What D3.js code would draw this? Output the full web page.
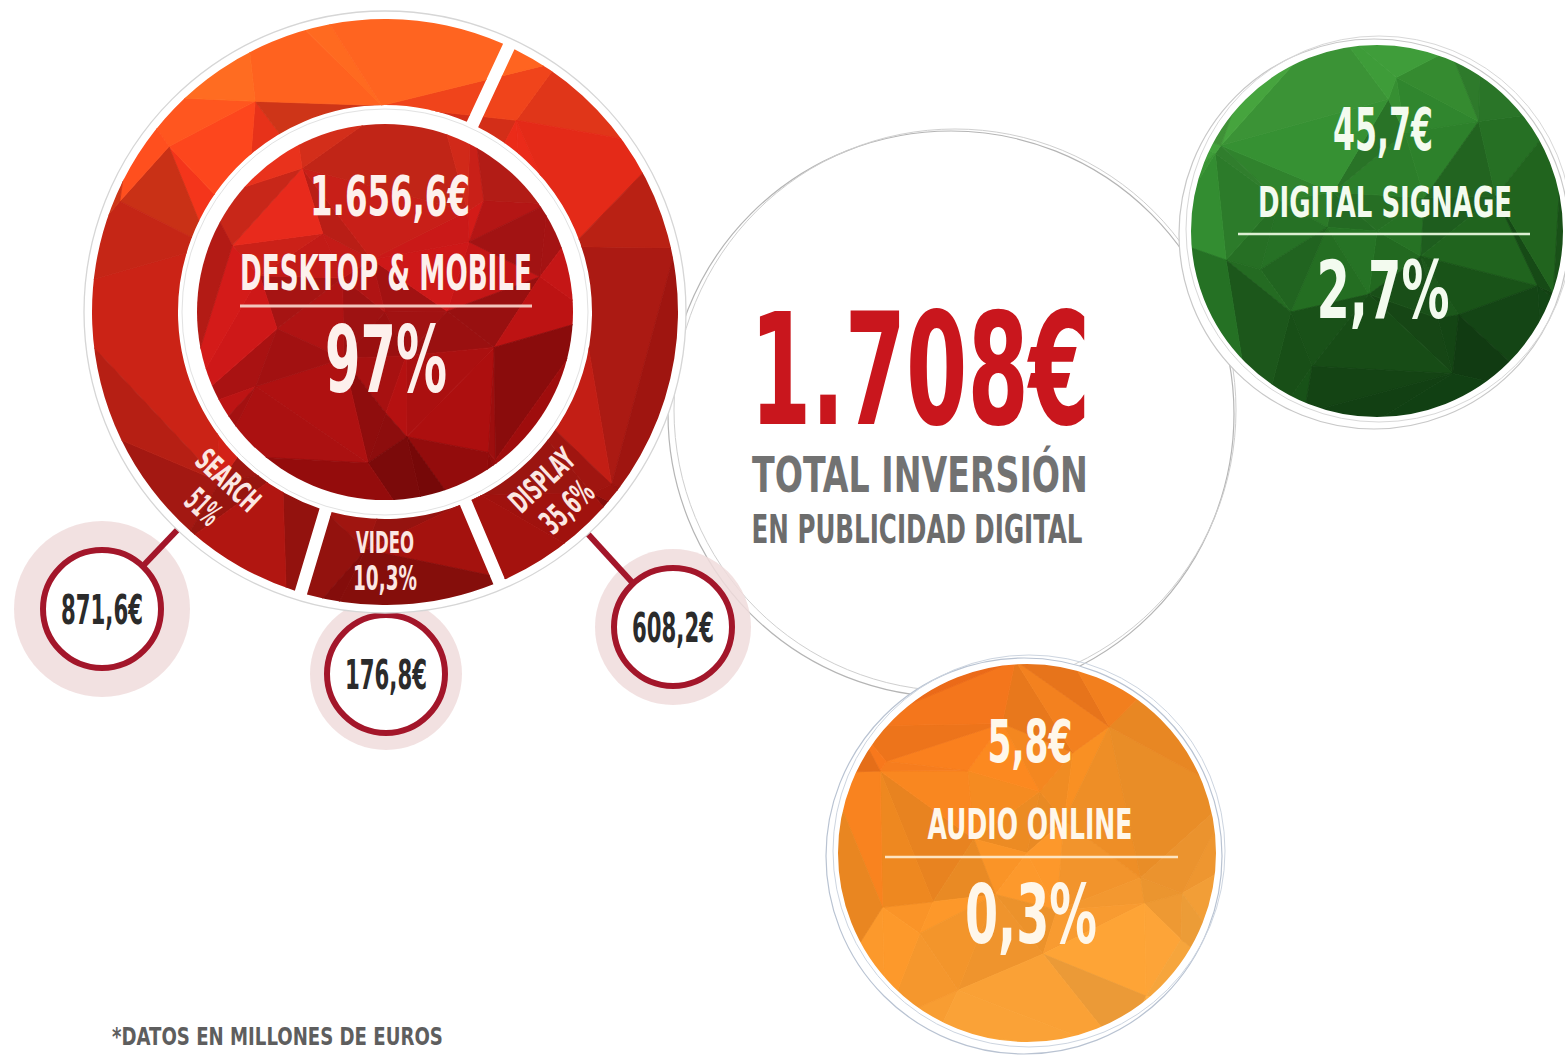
<!DOCTYPE html>
<html>
<head>
<meta charset="utf-8">
<script src="https://cdn.jsdelivr.net/npm/d3@7"></script>
<style>
  html, body { margin: 0; padding: 0; background: #fff; }
  svg { display: block; }
  text { font-family: 'Liberation Sans Narrow', 'DejaVu Sans Condensed', 'Roboto', sans-serif; font-weight: bold; }
</style>
</head>
<body>
<div id="chart"></div>
<script>
// --- data (millones de euros) ---
const total = 1708;
const groups = ['DESKTOP & MOBILE', 'DIGITAL SIGNAGE', 'AUDIO ONLINE'];
const groupValues = [1656.6, 45.7, 5.8];
const groupPercents = [97, 2.7, 0.3];

const formats = ['SEARCH', 'VIDEO', 'DISPLAY'];
const formatValues = [871.6, 176.8, 608.2];
const formatPercents = [51, 10.3, 35.6];

const ringOrder = ['DISPLAY', 'VIDEO', 'SEARCH'];   // clockwise from the top gap
const footnote = '*DATOS EN MILLONES DE EUROS';

// --- layout ---
const width = 1565, height = 1059;
const main = { cx: 385, cy: 312, rOut: 293, rIn: 207, rCore: 188 };
const labelAngle = { SEARCH: 223, VIDEO: 180, DISPLAY: 137 };
const labelWidth = { SEARCH: [75, 36], VIDEO: [58, 64], DISPLAY: [77, 60] };
const callout = {
  SEARCH:  { x: 102, y: 609, halo: 88 },
  VIDEO:   { x: 386, y: 674, halo: 76 },
  DISPLAY: { x: 673, y: 627, halo: 78 }
};
const bubbles = [
  { cx: 385, cy: 312 },
  { cx: 1377, cy: 231, r: 187 },
  { cx: 1027, cy: 853, r: 190 }
];

const loc = d3.formatLocale({ decimal: ',', thousands: '.', grouping: [3], currency: ['', '€'] });
const money = v => loc.format(',.1f')(v) + '€';
const pct = v => loc.format('.1~f')(v) + '%';

const svg = d3.select('#chart').append('svg')
  .attr('width', width)
  .attr('height', height);
svg.append('rect').attr('width', width).attr('height', height).attr('fill', '#fff');
const defs = svg.append('defs');

// condensed text: measure, then squeeze horizontally to the width in the picture
function label(g, str, x, y, size, w, fill, anchor) {
  const t = g.append('text')
    .attr('text-anchor', anchor || 'middle')
    .attr('font-size', size)
    .attr('fill', fill)
    .text(str);
  const w0 = t.node().getComputedTextLength() || w;
  t.attr('transform', `translate(${x},${y}) scale(${(w / w0).toFixed(4)},1)`);
  return t;
}

// low-poly look: delaunay triangles coloured along a direction
function facets(g, cx, cy, r, scale, seed, dir, amp) {
  const pts = [[cx, cy]];
  [0.3, 0.62, 0.92, 1.3].forEach((k, j) => {
    const n = 5 + j * 3;
    for (let i = 0; i < n; i++) {
      const a = (i + 0.5 * (j % 2)) / n * 2 * Math.PI + seed + 0.35 * Math.sin(i * 2.3 + j);
      const rr = r * k * (1 + 0.14 * Math.sin(i * 3.7 + j * 1.3 + seed));
      pts.push([cx + rr * Math.cos(a), cy + rr * Math.sin(a)]);
    }
  });
  const del = d3.Delaunay.from(pts);
  const tris = [];
  for (let t = 0; t < del.triangles.length / 3; t++) {
    tris.push([0, 1, 2].map(k => pts[del.triangles[t * 3 + k]]));
  }
  g.selectAll('path.facet')
    .data(tris)
    .join('path')
    .attr('class', 'facet')
    .attr('d', d => 'M' + d.join('L') + 'Z')
    .attr('fill', (d, i) => {
      const mx = d3.mean(d, p => p[0]), my = d3.mean(d, p => p[1]);
      const t = (dir[0] * (mx - cx) + dir[1] * (my - cy)) / r;
      const base = d3.color(scale(Math.max(-1, Math.min(1, t))));
      const f = Math.sin(i * 12.9898 + seed * 7.1);
      return (f > 0 ? base.brighter(f * amp) : base.darker(-f * amp)).formatHex();
    })
    .attr('stroke', function () { return d3.select(this).attr('fill'); })
    .attr('stroke-width', 0.8);
}

// --- central total circle (outline only) ---
const center = svg.append('g');
center.append('circle').attr('cx', 951).attr('cy', 414).attr('r', 283)
  .attr('fill', '#fff').attr('stroke', '#b5b5b5').attr('stroke-width', 1.2);
center.append('circle').attr('cx', 955).attr('cy', 410).attr('r', 281)
  .attr('fill', 'none').attr('stroke', '#cfcfcf').attr('stroke-width', 1);

// --- green and orange bubbles ---
const bubbleScales = [
  null,
  d3.scaleLinear().domain([-1, -0.3, 0.4, 1]).range(['#46a03e', '#2b7b29', '#195218', '#0d3310']),
  d3.scaleLinear().domain([-1, -0.2, 1]).range(['#ec6416', '#f28c22', '#f6a840'])
];
const bubbleAmp = [0, 0.3, 0.12];
const bubbleText = [null, ['#f3fbef', '#dcefd2'], ['#fff7ea', '#fde5c2']];
const bubbleLines = [null, [1238, 1530, 234], [885, 1178, 857]];
const bubbleType = [null,
  { v: [150, 58, 100, 1383], n: [217, 42, 254, 1385], p: [318, 80, 133, 1383] },
  { v: [762, 58, 85, 1030], n: [839, 42, 205, 1030], p: [943, 82, 132, 1031] }
];

[1, 2].forEach(i => {
  const b = bubbles[i];
  const g = svg.append('g');
  g.append('circle').attr('cx', b.cx - 3).attr('cy', b.cy + 3).attr('r', b.r + 8)
    .attr('fill', '#fff').attr('stroke', i === 1 ? '#c8c8c8' : '#b9c3d2').attr('stroke-width', 1.2);
  g.append('circle').attr('cx', b.cx + 2).attr('cy', b.cy - 2).attr('r', b.r + 6)
    .attr('fill', 'none').attr('stroke', i === 1 ? '#d8d8d8' : '#cdd5e0').attr('stroke-width', 1);
  defs.append('clipPath').attr('id', 'clip' + i)
    .append('circle').attr('cx', b.cx).attr('cy', b.cy).attr('r', b.r);
  const f = g.append('g').attr('clip-path', `url(#clip${i})`);
  facets(f, b.cx, b.cy, b.r, bubbleScales[i], i * 1.7, i === 1 ? [0.35, 0.75] : [0.4, 0.7], bubbleAmp[i]);
  g.append('circle').attr('cx', b.cx).attr('cy', b.cy).attr('r', b.r)
    .attr('fill', 'none').attr('stroke', '#fff').attr('stroke-width', 2);

  const L = bubbleType[i];
  label(g, money(groupValues[i]), L.v[3], L.v[0], L.v[1], L.v[2], bubbleText[i][0]);
  label(g, groups[i], L.n[3], L.n[0], L.n[1], L.n[2], bubbleText[i][0]);
  g.append('line')
    .attr('x1', bubbleLines[i][0]).attr('x2', bubbleLines[i][1])
    .attr('y1', bubbleLines[i][2]).attr('y2', bubbleLines[i][2])
    .attr('stroke', bubbleText[i][1]).attr('stroke-width', 2.5);
  label(g, pct(groupPercents[i]), L.p[3], L.p[0], L.p[1], L.p[2], bubbleText[i][0]);
});

// --- total text ---
label(center, loc.format(',.0f')(total) + '€', 920, 424, 156, 340, '#c9161d');
label(center, 'TOTAL INVERSIÓN', 920, 492, 49, 336, '#727272');
label(center, 'EN PUBLICIDAD DIGITAL', 917, 543, 39, 331, '#6c6c6c');

// --- callouts (drawn before the ring so the ring covers connector ends) ---
const cg = svg.append('g');
formats.forEach(name => {
  const c = callout[name];
  cg.append('circle').attr('cx', c.x).attr('cy', c.y).attr('r', c.halo)
    .attr('fill', '#f0dcdc').attr('opacity', 0.85);
});
formats.forEach(name => {
  const c = callout[name];
  cg.append('line')
    .attr('x1', c.x).attr('y1', c.y)
    .attr('x2', main.cx + (c.x - main.cx) * 0.55).attr('y2', main.cy + (c.y - main.cy) * 0.55)
    .attr('stroke', '#a3162a').attr('stroke-width', 6);
});
formats.forEach((name, i) => {
  const c = callout[name];
  cg.append('circle').attr('cx', c.x).attr('cy', c.y).attr('r', 59)
    .attr('fill', '#fff').attr('stroke', '#a3162a').attr('stroke-width', 6);
  label(cg, money(formatValues[i]), c.x, c.y + 15, 41, 82, '#2b2b2b');
});

// --- main donut ---
const dg = svg.append('g').attr('transform', `translate(${main.cx},${main.cy})`);
dg.append('circle').attr('r', main.rOut + 8)
  .attr('fill', '#fff').attr('stroke', '#d6d6d6').attr('stroke-width', 1.3);

const ringValues = ringOrder.map(n => formatPercents[formats.indexOf(n)]);
const start = 25 * Math.PI / 180;
const pie = d3.pie().sort(null).startAngle(start).endAngle(start + 2 * Math.PI).padAngle(0.035);
const arcs = pie(ringValues);
const arc = d3.arc().innerRadius(main.rIn).outerRadius(main.rOut);

const ringClip = defs.append('clipPath').attr('id', 'ringClip');
ringClip.selectAll('path').data(arcs).join('path')
  .attr('transform', `translate(${main.cx},${main.cy})`)
  .attr('d', arc);

const ringFacets = svg.append('g').attr('clip-path', 'url(#ringClip)');
facets(ringFacets, main.cx, main.cy, main.rOut,
  d3.scaleLinear().domain([-1, -0.4, 0.3, 1]).range(['#f2651e', '#dc2a18', '#b01a13', '#920f0c']),
  0.4, [0.2, 0.95], 0.3);

// inner core
const core = svg.append('g');
core.append('circle').attr('cx', main.cx).attr('cy', main.cy).attr('r', main.rIn - 4)
  .attr('fill', '#fff').attr('stroke', '#e2e2e2').attr('stroke-width', 1);
defs.append('clipPath').attr('id', 'coreClip')
  .append('circle').attr('cx', main.cx).attr('cy', main.cy).attr('r', main.rCore);
const coreFacets = core.append('g').attr('clip-path', 'url(#coreClip)');
facets(coreFacets, main.cx, main.cy, main.rCore,
  d3.scaleLinear().domain([-1, -0.2, 0.5, 1]).range(['#e2361c', '#bb1616', '#9c0e0e', '#7e0909']),
  2.3, [0.3, 0.8], 0.35);

label(core, money(groupValues[0]), 390, 215, 56, 160, '#fdf0ec');
label(core, groups[0], 386, 290, 49, 292, '#fdf0ec');
core.append('line').attr('x1', 240).attr('x2', 532).attr('y1', 306).attr('y2', 306)
  .attr('stroke', '#f2c5bc').attr('stroke-width', 3);
label(core, pct(groupPercents[0]), 386, 392, 93, 122, '#fdf0ec');

// ring labels
const lg = svg.append('g');
formats.forEach((name, i) => {
  const a = labelAngle[name];
  const g = lg.append('g')
    .attr('transform', `translate(${main.cx},${main.cy}) rotate(${a - 180})`);
  label(g, name, 0, 230 + 11, 31, labelWidth[name][0], '#fbe7e3');
  label(g, pct(formatPercents[i]), 0, 266 + 12, 33, labelWidth[name][1], '#fbe7e3');
});

// footnote
label(svg, footnote, 112, 1045, 25, 331, '#5e5e5e', 'start');
</script>
</body>
</html>
